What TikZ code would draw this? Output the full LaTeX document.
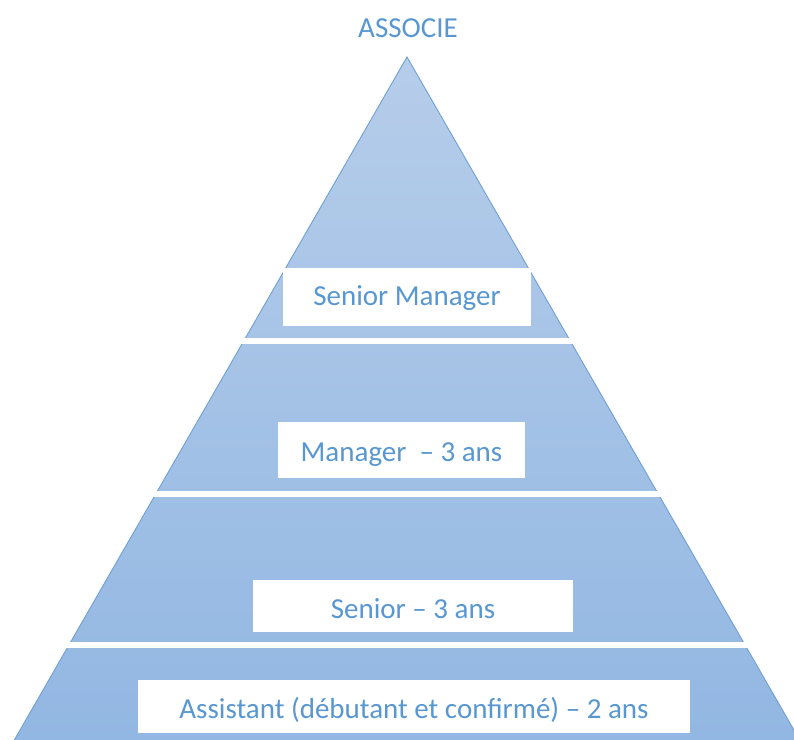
\documentclass[tikz,border=0pt]{standalone}
\usepackage{fontspec}
\setmainfont{Carlito}
\definecolor{txtblue}{RGB}{88,151,210}
\definecolor{pyrtop}{RGB}{182,205,234}
\definecolor{pyrbot}{RGB}{146,183,226}
\definecolor{pyredge}{RGB}{110,160,214}
\begin{document}
\begin{tikzpicture}[x=1bp,y=-1bp,
  lbltext/.style={text=txtblue, font=\fontsize{29bp}{34bp}\selectfont, inner sep=0pt, text height=19bp, text depth=0pt},
  lblbox/.style={lbltext, fill=white},
  pyredgeline/.style={draw=pyredge, line width=0.9bp},
  gapband/.style={fill=white}]
\useasboundingbox (0,0) rectangle (794,740);
\clip (0,0) rectangle (794,740);
% pyramid body
\coordinate (apex) at (407,57);
\coordinate (bl) at (14.3,740);
\coordinate (br) at (799.7,740);
\shade[top color=pyrtop, bottom color=pyrbot] (apex) -- (bl) -- (br) -- cycle;
\draw[pyredgeline] (bl) -- (apex) -- (br);
% white gaps between layers
\fill[gapband] (0,338) rectangle (794,344);
\fill[gapband] (0,491) rectangle (794,497);
\fill[gapband] (0,642) rectangle (794,648);
% labels
\node[lbltext] (assoc) at (408,28) {ASSOCIE};
\node[lblbox, minimum width=248bp, minimum height=58bp, text height=17bp] (smgr) at (407,297) {Senior Manager};
\node[lblbox, minimum width=247bp, minimum height=56bp, text height=23bp] (mgr) at (401.5,450) {Manager\ \ – 3 ans};
\node[lblbox, minimum width=320bp, minimum height=52bp, text height=25bp] (sen) at (413,606) {Senior – 3 ans};
\node[lblbox, minimum width=552bp, minimum height=53bp, text height=25bp] (asst) at (414,706) {Assistant (débutant et confirmé) – 2 ans};
\end{tikzpicture}
\end{document}
